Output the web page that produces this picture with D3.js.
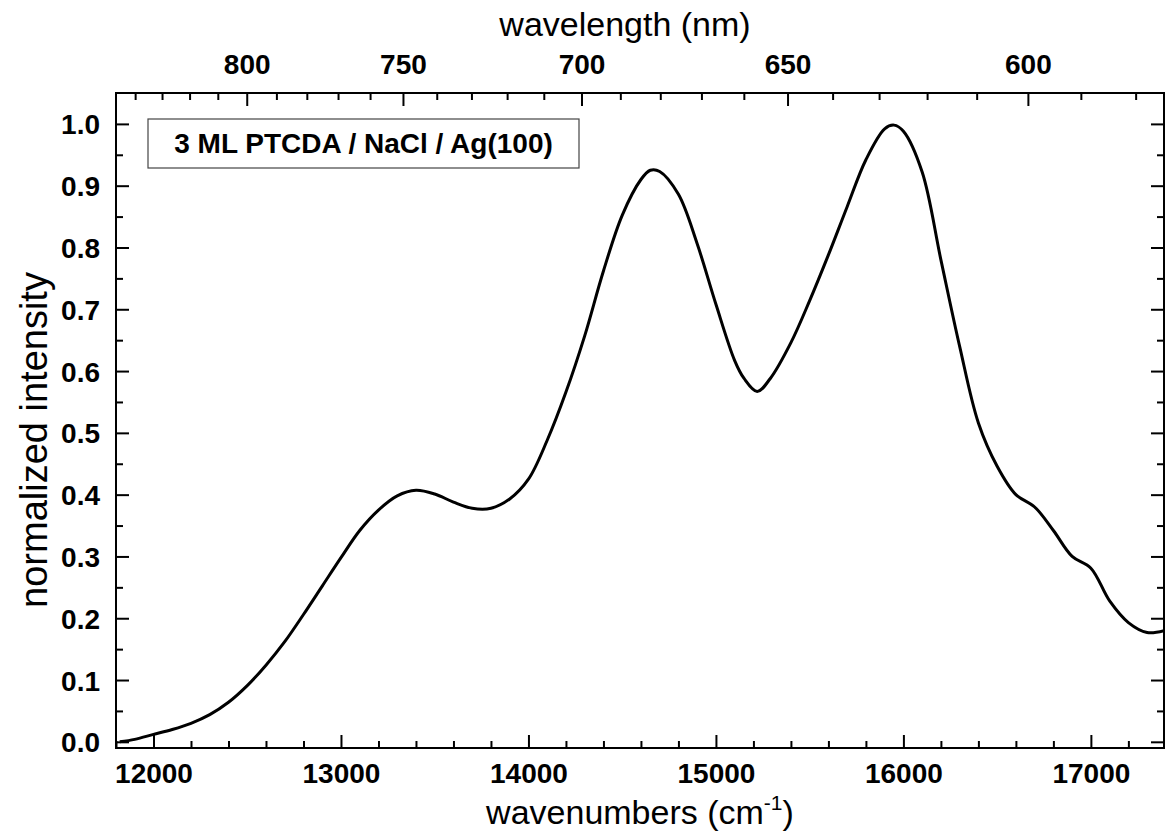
<!DOCTYPE html>
<html>
<head>
<meta charset="utf-8">
<script src="https://cdn.jsdelivr.net/npm/d3@7"></script>
<style>
  body { margin: 0; background: #fff; }
  svg text { font-family: "Liberation Sans", Arial, sans-serif; fill: #000; }
</style>
</head>
<body>
<div id="chart"></div>
<script>
// spectrum
const wavenumbers = [11820, 11900, 12000, 12100, 12200, 12300, 12400, 12500, 12600, 12700,
  12800, 12900, 13000, 13100, 13200, 13300, 13400, 13500, 13600, 13700,
  13800, 13900, 14000, 14100, 14200, 14300, 14400, 14500, 14600, 14650,
  14700, 14800, 14900, 15000, 15100, 15150, 15220, 15290, 15400, 15500,
  15600, 15700, 15800, 15900, 15950, 16000, 16100, 16200, 16300, 16400,
  16500, 16600, 16700, 16800, 16900, 17000, 17100, 17200, 17300, 17390];
const intensity = [0.000, 0.004, 0.012, 0.020, 0.030, 0.044, 0.064, 0.091, 0.124, 0.162,
  0.206, 0.252, 0.298, 0.342, 0.375, 0.398, 0.407, 0.401, 0.388, 0.378,
  0.378, 0.393, 0.425, 0.488, 0.566, 0.657, 0.762, 0.852, 0.910, 0.925,
  0.923, 0.886, 0.806, 0.708, 0.617, 0.588, 0.567, 0.588, 0.646, 0.714,
  0.788, 0.866, 0.942, 0.992, 0.998, 0.988, 0.922, 0.780, 0.640, 0.516,
  0.446, 0.400, 0.380, 0.342, 0.300, 0.281, 0.228, 0.193, 0.177, 0.180];

const xMajor = [12000, 13000, 14000, 15000, 16000, 17000];
const yMajor = [0.0, 0.1, 0.2, 0.3, 0.4, 0.5, 0.6, 0.7, 0.8, 0.9, 1.0];
const nmMajor = [800, 750, 700, 650, 600];
const legendText = "3 ML PTCDA / NaCl / Ag(100)";

const W = 1165, H = 832;
const margin = {top: 93, right: 1, bottom: 84, left: 116},
    width = W - margin.left - margin.right,
    height = H - margin.top - margin.bottom;

const svg = d3.select("#chart").append("svg")
    .attr("width", W).attr("height", H);
const g = svg.append("g")
    .attr("transform", `translate(${margin.left},${margin.top})`);

const x = d3.scaleLinear().domain([11800, 17390]).range([0, width]);
const y = d3.scaleLinear().domain([-0.01, 1.05]).range([height, 0]);

// minor tick values
const xMinor = d3.range(11800, 17400, 200).filter(v => v % 1000 !== 0);
const yMinor = d3.range(0.05, 1.05, 0.1);
const nmMinor = d3.range(580, 850, 10).filter(v => v % 50 !== 0 && 1e7 / v >= 11800 && 1e7 / v <= 17390);

const tickStyle = sel => sel.attr("stroke", "#000").attr("stroke-width", 2);

// bottom axis
g.append("g").attr("transform", `translate(0,${height})`)
  .call(d3.axisBottom(x).tickValues(xMajor).tickSize(-13).tickPadding(15).tickFormat(d3.format("d")))
  .call(a => a.select(".domain").remove())
  .call(a => a.selectAll("line").call(tickStyle))
  .call(a => a.selectAll("text").attr("font-size", 28).attr("font-weight", "bold"));
g.append("g").attr("transform", `translate(0,${height})`)
  .call(d3.axisBottom(x).tickValues(xMinor).tickSize(-7).tickFormat(""))
  .call(a => a.select(".domain").remove())
  .call(a => a.selectAll("line").call(tickStyle));

// left axis
g.append("g")
  .call(d3.axisLeft(y).tickValues(yMajor).tickSize(-13).tickPadding(16).tickFormat(d3.format(".1f")))
  .call(a => a.select(".domain").remove())
  .call(a => a.selectAll("line").call(tickStyle))
  .call(a => a.selectAll("text").attr("font-size", 28).attr("font-weight", "bold").attr("dy", "0.36em"));
g.append("g")
  .call(d3.axisLeft(y).tickValues(yMinor).tickSize(-7).tickFormat(""))
  .call(a => a.select(".domain").remove())
  .call(a => a.selectAll("line").call(tickStyle));

// right axis, ticks only
g.append("g").attr("transform", `translate(${width},0)`)
  .call(d3.axisRight(y).tickValues(yMajor).tickSize(-13).tickFormat(""))
  .call(a => a.select(".domain").remove())
  .call(a => a.selectAll("line").call(tickStyle));
g.append("g").attr("transform", `translate(${width},0)`)
  .call(d3.axisRight(y).tickValues(yMinor).tickSize(-7).tickFormat(""))
  .call(a => a.select(".domain").remove())
  .call(a => a.selectAll("line").call(tickStyle));

// top axis in wavelength (nm), placed through the wavenumber scale
const topAxis = g.append("g");
topAxis.selectAll(".maj").data(nmMajor).join("line").attr("class", "maj")
    .attr("x1", d => x(1e7 / d)).attr("x2", d => x(1e7 / d))
    .attr("y1", 0).attr("y2", 13).call(tickStyle);
topAxis.selectAll(".min").data(nmMinor).join("line").attr("class", "min")
    .attr("x1", d => x(1e7 / d)).attr("x2", d => x(1e7 / d))
    .attr("y1", 0).attr("y2", 7).call(tickStyle);
topAxis.selectAll("text").data(nmMajor).join("text")
    .attr("x", d => x(1e7 / d)).attr("y", -19)
    .attr("text-anchor", "middle").attr("font-size", 28).attr("font-weight", "bold")
    .text(d => d);

// frame
g.append("rect").attr("width", width).attr("height", height)
  .attr("fill", "none").attr("stroke", "#000").attr("stroke-width", 2);

// spectrum
g.append("clipPath").attr("id", "clip")
  .append("rect").attr("width", width).attr("height", height);
const line = d3.line()
    .x((d, i) => x(wavenumbers[i]))
    .y(d => y(d))
    .curve(d3.curveCatmullRom.alpha(0.5));
g.append("path").datum(intensity)
  .attr("clip-path", "url(#clip)")
  .attr("fill", "none").attr("stroke", "#000").attr("stroke-width", 3)
  .attr("stroke-linejoin", "round")
  .attr("d", line);

// legend box
const leg = g.append("g").attr("transform", "translate(32,26)");
leg.append("rect").attr("width", 431).attr("height", 49)
  .attr("fill", "#fff").attr("stroke", "#444").attr("stroke-width", 1.2);
leg.append("text").attr("x", 215.5).attr("y", 34)
  .attr("text-anchor", "middle").attr("font-size", 28).attr("font-weight", "bold")
  .text(legendText);

// axis titles
const xt = svg.append("text").attr("x", 640).attr("y", 824)
  .attr("text-anchor", "middle").attr("font-size", 34);
xt.append("tspan").text("wavenumbers (cm");
xt.append("tspan").attr("font-size", 21).attr("dy", -14).text("-1");
xt.append("tspan").attr("dy", 14).text(")");
svg.append("text").attr("x", 625).attr("y", 36)
  .attr("text-anchor", "middle").attr("font-size", 34)
  .text("wavelength (nm)");
svg.append("text").attr("transform", "translate(47,440) rotate(-90)")
  .attr("text-anchor", "middle").attr("font-size", 38)
  .text("normalized intensity");
</script>
</body>
</html>
